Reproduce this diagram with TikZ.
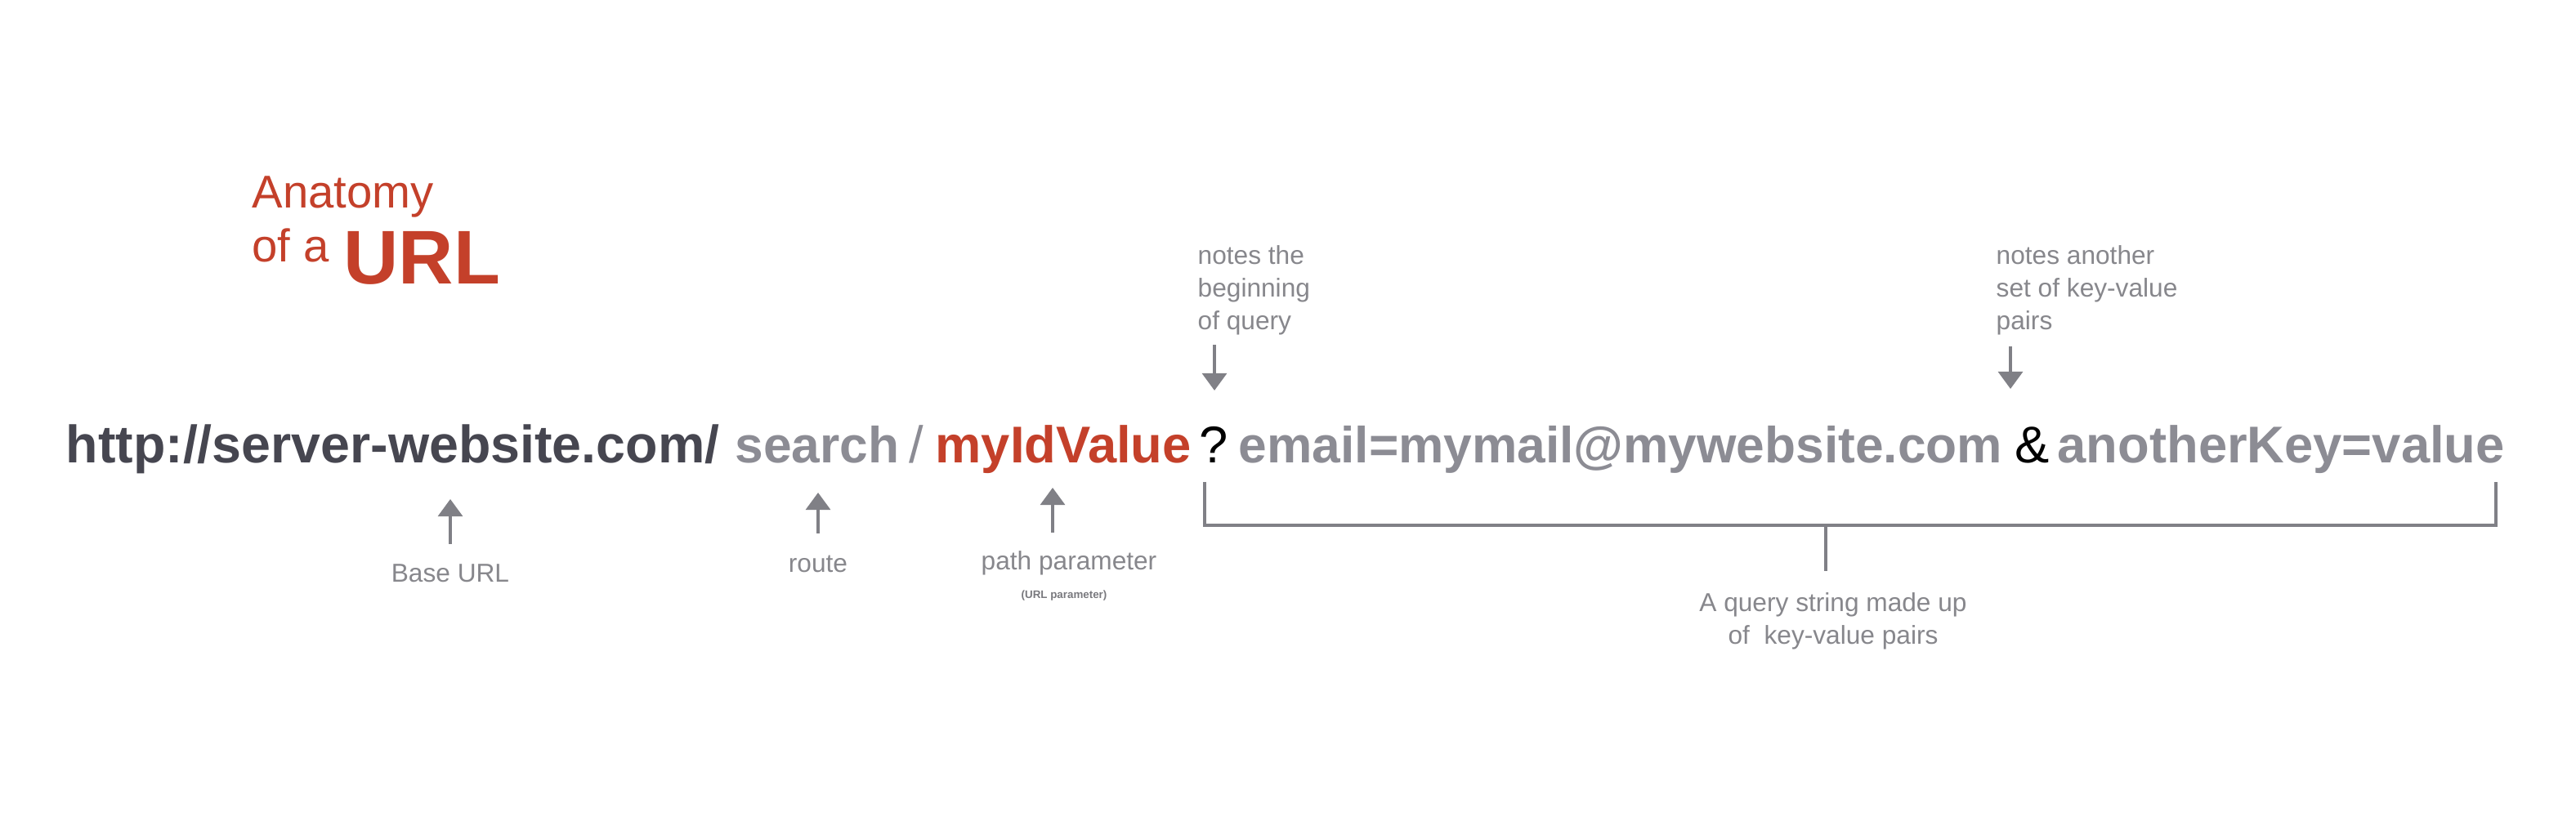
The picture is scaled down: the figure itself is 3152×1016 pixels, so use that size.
\documentclass[tikz,border=0pt]{standalone}
\usepackage{fontspec}
\setmainfont{Liberation Sans}
\usetikzlibrary{arrows.meta}
\definecolor{urlred}{RGB}{196,64,42}
\definecolor{urldark}{RGB}{70,70,80}
\definecolor{urlgrey}{RGB}{140,140,148}
\definecolor{labgrey}{RGB}{135,135,140}
\definecolor{linegrey}{RGB}{128,128,134}
\begin{document}
\begin{tikzpicture}[x=0.01cm,y=-0.01cm,
  seg/.style={inner sep=0pt, anchor=base west, font=\fontsize{18}{20}\selectfont\bfseries},
  segthin/.style={inner sep=0pt, anchor=base west, font=\fontsize{18}{20}\selectfont},
  lab/.style={inner sep=0pt, text=labgrey, font=\fontsize{9}{11.4}\selectfont},
  tiny/.style={inner sep=0pt, text=labgrey!90!black, font=\fontsize{3.8}{4.5}\selectfont\bfseries},
  ttl/.style={inner sep=0pt, anchor=base west, text=urlred},
  arr/.style={draw=linegrey, line width=1.05pt, -{Triangle[width=8.5pt,length=6pt]}},
  brk/.style={draw=linegrey, line width=1.1pt}]
\useasboundingbox[fill=white] (0,0) rectangle (3152,1016);

% title
\node[ttl, font=\fontsize{16}{18}\selectfont] (anat) at (308,255) {Anatomy};
\node[ttl, font=\fontsize{16}{18}\selectfont] (ofa) at (308,321) {of a};
\node[ttl, font=\fontsize{26.5}{30}\selectfont\bfseries] (urlt) at (420,348) {URL};

% URL line
\node[seg, text=urldark, font=\fontsize{18.35}{20}\selectfont\bfseries] (base) at (80,567) {http://server-website.com/};
\node[seg, text=urlgrey, font=\fontsize{17.7}{20}\selectfont\bfseries] (route) at (899,567) {search};
\node[segthin, text=urlgrey] (slash) at (1112,567) {/};
\node[seg, text=urlred] (pid) at (1144,567) {myIdValue};
\node[segthin, text=black] (qm) at (1467,567) {?};
\node[seg, text=urlgrey, anchor=base, font=\fontsize{17.7}{20}\selectfont\bfseries] (email) at (1983,567) {email=mymail@mywebsite.com};
\node[segthin, text=black] (amp) at (2465,567) {\&};
\node[seg, text=urlgrey] (akey) at (2517,567) {anotherKey=value};

% labels below
\node[lab, anchor=base] (lbase) at (551,712) {Base URL};
\node[lab, anchor=base] (lroute) at (1001,700) {route};
\node[lab, anchor=base] (lpath) at (1308,697) {path parameter};
\node[tiny, anchor=base] (lpathsub) at (1302,732) {(URL parameter)};

\coordinate (ab0) at (551,666); \coordinate (ab1) at (551,611);
\coordinate (ar0) at (1001,653); \coordinate (ar1) at (1001,603);
\coordinate (ap0) at (1288,652); \coordinate (ap1) at (1288,597);
\draw[arr] (ab0) -- (ab1);
\draw[arr] (ar0) -- (ar1);
\draw[arr] (ap0) -- (ap1);

% labels above
\node[lab, anchor=north west, align=left] (lq) at (1465,300) {notes the\\beginning\\of query};
\node[lab, anchor=north west, align=left] (lamp) at (2442,300) {notes another\\set of key-value\\pairs};
\coordinate (aq0) at (1486,422); \coordinate (aq1) at (1486,478);
\coordinate (aa0) at (2460,424); \coordinate (aa1) at (2460,476);
\draw[arr] (aq0) -- (aq1);
\draw[arr] (aa0) -- (aa1);

% bracket
\coordinate (bl) at (1474,590);
\coordinate (br) at (3054,590);
\coordinate (bm) at (2234,643);
\coordinate (bs) at (2234,699);
\draw[brk, line join=miter] (bl) |- (br |- bm) -- (br);
\draw[brk] (bm) -- (bs);
\node[lab, anchor=north, align=center] (lquery) at (2243,725) {A query string made up\\of\ \ key-value pairs};
\end{tikzpicture}
\end{document}
